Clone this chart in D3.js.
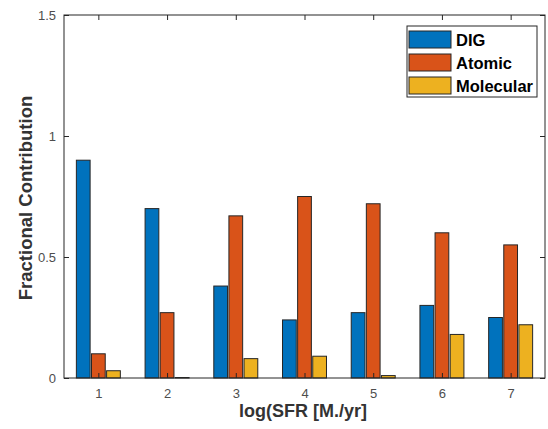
<!DOCTYPE html>
<html>
<head>
<meta charset="utf-8">
<script src="https://cdn.jsdelivr.net/npm/d3@7"></script>
<style>
  body { margin: 0; background: #fff; }
  svg { font-family: "Liberation Sans", Arial, sans-serif; }
</style>
</head>
<body>
<svg id="chart"></svg>
<script>
// Fractional contribution per log(SFR) bin, three components

const categories = [1, 2, 3, 4, 5, 6, 7];
const seriesNames = ["DIG", "Atomic", "Molecular"];
const digValues = [0.90, 0.70, 0.38, 0.24, 0.27, 0.30, 0.25];
const atomicValues = [0.10, 0.27, 0.67, 0.75, 0.72, 0.60, 0.55];
const molecularValues = [0.03, 0.002, 0.08, 0.09, 0.01, 0.18, 0.22];
const yTicks = [0, 0.5, 1, 1.5];

const colors = ["#0072BD", "#D95319", "#EDB120"];
const allSeries = [digValues, atomicValues, molecularValues];

const svgWidth = 548;
const svgHeight = 429;
const margin = { top: 15, right: 3, bottom: 51, left: 64 };
const width = svgWidth - margin.left - margin.right;
const height = svgHeight - margin.top - margin.bottom;

const svg = d3.select("#chart")
    .attr("width", svgWidth)
    .attr("height", svgHeight);

const g = svg.append("g")
    .attr("transform", `translate(${margin.left}, ${margin.top})`);

const xScale = d3.scaleLinear().domain([0.5, 7.5]).range([0, width]);
const yScale = d3.scaleLinear().domain([0, 1.5]).range([height, 0]);

const barOffset = 0.22;
const barWidth = 0.2;

// bars
allSeries.forEach((values, i) => {
    g.selectAll(".bar-" + i)
        .data(values)
        .join("rect")
        .attr("class", "bar-" + i)
        .attr("x", (d, j) => xScale(categories[j] + (i - 1) * barOffset - barWidth / 2))
        .attr("width", xScale(barWidth) - xScale(0))
        .attr("y", d => yScale(d))
        .attr("height", d => yScale(0) - yScale(d))
        .attr("fill", colors[i])
        .attr("stroke", "#262626")
        .attr("stroke-width", 1);
});

// axes (MATLAB style: ticks inside, box on)
const axisColor = "#262626";
const tickColor = "#4d4d4d";

const xAxis = d3.axisBottom(xScale).tickValues(categories).tickSize(-5).tickPadding(11).tickFormat(d3.format("d"));
const yAxis = d3.axisLeft(yScale).tickValues(yTicks).tickSize(-5).tickPadding(8).tickFormat(d => d);

g.append("g")
    .attr("transform", `translate(0, ${height})`)
    .call(xAxis);
g.append("g").call(yAxis);

g.append("g").call(d3.axisTop(xScale).tickValues(categories).tickSize(-5).tickFormat(""));
g.append("g").attr("transform", `translate(${width}, 0)`)
    .call(d3.axisRight(yScale).tickValues(yTicks).tickSize(-5).tickFormat(""));

g.selectAll(".domain").remove();
g.selectAll(".tick line").attr("stroke", axisColor);
g.selectAll(".tick text")
    .attr("fill", tickColor)
    .attr("font-size", "13px")
    .attr("font-family", "Liberation Sans, Arial, sans-serif");

g.append("rect")
    .attr("width", width)
    .attr("height", height)
    .attr("fill", "none")
    .attr("stroke", axisColor)
    .attr("stroke-width", 1);

// axis titles
svg.append("text")
    .attr("x", 303)
    .attr("y", 417)
    .attr("text-anchor", "middle")
    .attr("font-size", "18px")
    .attr("font-weight", "bold")
    .attr("fill", "#333")
    .text("log(SFR [M./yr]");

svg.append("text")
    .attr("transform", "translate(32, 198) rotate(-90)")
    .attr("text-anchor", "middle")
    .attr("font-size", "18.5px")
    .attr("font-weight", "bold")
    .attr("fill", "#333")
    .text("Fractional Contribution");

// legend
const legend = svg.append("g").attr("transform", "translate(407, 26)");
legend.append("rect")
    .attr("width", 130)
    .attr("height", 71)
    .attr("fill", "#fff")
    .attr("stroke", "#262626")
    .attr("stroke-width", 1);

seriesNames.forEach((name, i) => {
    const row = legend.append("g").attr("transform", `translate(2, ${5 + i * 23})`);
    row.append("rect")
        .attr("width", 42)
        .attr("height", 17)
        .attr("fill", colors[i])
        .attr("stroke", "#262626");
    row.append("text")
        .attr("x", 47)
        .attr("y", 15)
        .attr("font-size", "16.5px")
        .attr("font-weight", "bold")
        .attr("fill", "#000")
        .text(name);
});
</script>
</body>
</html>
